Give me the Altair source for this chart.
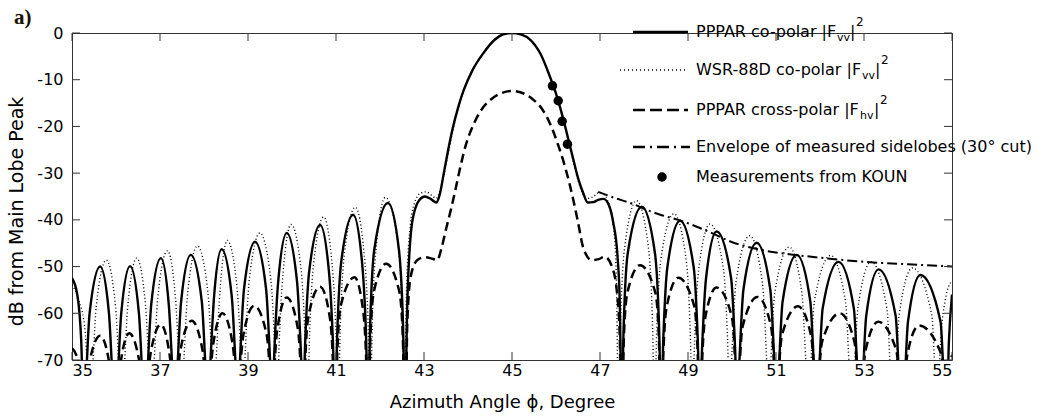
import altair as alt
import pandas as pd

# ---------------- data ----------------
# PPPAR co-polar |Fvv|^2 (solid)
pppar_co = [
    (35.00, -52.5), (35.12, -56), (35.21, -66), (35.26, -80),
    (35.31, -75), (35.40, -60), (35.64, -50.0), (35.84, -60), (35.93, -75), (35.98, -80),
    (36.03, -74.9), (36.12, -59.9), (36.32, -49.9), (36.52, -59.9), (36.61, -74.9), (36.66, -80),
    (36.71, -73.2), (36.80, -58.2), (37.02, -48.2), (37.20, -58.2), (37.29, -73.2), (37.34, -80),
    (37.39, -72.5), (37.48, -57.5), (37.70, -47.5), (37.95, -57.5), (38.04, -72.5), (38.09, -80),
    (38.14, -71.3), (38.23, -56.3), (38.40, -46.3), (38.63, -56.3), (38.72, -71.3), (38.77, -80),
    (38.82, -69.7), (38.91, -54.7), (39.16, -44.7), (39.41, -54.7), (39.50, -69.7), (39.55, -80),
    (39.60, -67.8), (39.69, -52.8), (39.88, -42.8), (40.11, -52.8), (40.20, -67.8), (40.25, -80),
    (40.30, -66.1), (40.39, -51.1), (40.64, -41.1), (40.84, -51.1), (40.93, -66.1), (40.98, -80),
    (41.03, -63.9), (41.12, -48.9), (41.39, -38.9), (41.59, -48.9), (41.68, -63.9), (41.73, -80),
    (41.78, -61.4), (41.87, -46.4), (42.18, -36.4), (42.43, -46.4), (42.52, -61.4), (42.57, -80),
    (42.62, -58), (42.70, -43), (42.80, -37.6), (42.90, -35.7), (43.02, -35.0), (43.15, -35.5),
    (43.28, -36.3), (43.36, -34.5), (43.45, -30.0), (43.55, -25.0), (43.65, -20.5), (43.78, -15.8),
    (43.90, -12.3), (44.10, -8.0), (44.35, -4.3), (44.60, -1.5), (44.80, -0.3), (45.00, 0.0),
    (45.20, -0.3), (45.41, -1.4), (45.65, -4.5), (45.86, -9.3), (46.00, -13.0), (46.17, -18.6),
    (46.30, -23.5), (46.40, -27.3), (46.50, -31.0), (46.62, -34.3), (46.72, -36.3), (46.85, -36.2),
    (46.96, -35.7), (47.08, -35.5), (47.20, -36.8), (47.30, -40.5), (47.40, -48), (47.45, -58), (47.49, -80),
    (47.54, -62.2), (47.63, -47.2), (47.95, -37.2), (48.25, -47.2), (48.34, -62.2), (48.39, -80),
    (48.44, -65.2), (48.53, -50.2), (48.82, -40.2), (49.13, -50.2), (49.22, -65.2), (49.27, -80),
    (49.32, -67.5), (49.41, -52.5), (49.65, -42.5), (49.98, -52.5), (50.07, -67.5), (50.12, -80),
    (50.17, -69.9), (50.26, -54.9), (50.56, -44.9), (50.87, -54.9), (50.96, -69.9), (51.01, -80),
    (51.06, -72.5), (51.15, -57.5), (51.47, -47.5), (51.78, -57.5), (51.87, -72.5), (51.92, -80),
    (51.97, -74), (52.06, -59), (52.42, -49.0), (52.77, -59), (52.86, -74), (52.91, -80),
    (52.96, -75.6), (53.05, -60.6), (53.33, -50.6), (53.72, -60.6), (53.81, -75.6), (53.86, -80),
    (53.91, -76.8), (54.00, -61.8), (54.28, -51.8), (54.74, -61.8), (54.83, -76.8), (54.88, -80),
    (54.93, -66), (55.00, -56),
]

# WSR-88D co-polar |Fvv|^2 (dotted)
wsr_co = [
    (35.00, -54), (35.15, -57), (35.30, -64), (35.41, -80),
    (35.46, -73.6), (35.55, -58.6), (35.78, -48.6), (35.99, -58.6), (36.08, -73.6), (36.13, -80),
    (36.18, -73.2), (36.27, -58.2), (36.47, -48.2), (36.67, -58.2), (36.76, -73.2), (36.81, -80),
    (36.86, -71.6), (36.95, -56.6), (37.17, -46.6), (37.35, -56.6), (37.44, -71.6), (37.49, -80),
    (37.54, -70.6), (37.63, -55.6), (37.85, -45.6), (38.09, -55.6), (38.18, -70.6), (38.23, -80),
    (38.28, -69.4), (38.37, -54.4), (38.53, -44.4), (38.75, -54.4), (38.84, -69.4), (38.89, -80),
    (38.94, -67.8), (39.03, -52.8), (39.27, -42.8), (39.52, -52.8), (39.61, -67.8), (39.66, -80),
    (39.71, -66), (39.80, -51), (39.98, -41.0), (40.21, -51), (40.30, -66), (40.35, -80),
    (40.40, -64.4), (40.49, -49.4), (40.72, -39.4), (40.91, -49.4), (41.00, -64.4), (41.05, -80),
    (41.10, -62.3), (41.19, -47.3), (41.44, -37.3), (41.64, -47.3), (41.73, -62.3), (41.78, -80),
    (41.83, -60.2), (41.92, -45.2), (42.12, -35.2), (42.41, -45.2), (42.50, -60.2), (42.55, -80),
    (42.60, -56), (42.68, -42), (42.78, -36.5), (42.92, -34.3), (43.05, -34.0), (43.18, -34.8),
    (43.28, -35.4), (43.36, -33.8), (43.45, -30.5), (43.55, -25.8), (43.65, -21.0), (43.78, -16.0),
    (43.90, -12.4), (44.10, -8.0), (44.35, -4.3), (44.60, -1.5), (44.80, -0.3), (45.00, 0.0),
    (45.20, -0.3), (45.41, -1.4), (45.65, -4.5), (45.86, -9.3), (46.00, -13.0), (46.17, -18.9),
    (46.30, -23.9), (46.40, -27.8), (46.50, -31.5), (46.62, -34.6), (46.72, -35.4), (46.85, -35.0),
    (46.97, -34.2), (47.08, -34.5), (47.20, -36.5), (47.30, -41), (47.37, -52), (47.42, -80),
    (47.47, -60.9), (47.56, -45.9), (47.83, -35.9), (48.10, -45.9), (48.19, -60.9), (48.24, -80),
    (48.29, -63.7), (48.38, -48.7), (48.68, -38.7), (48.96, -48.7), (49.05, -63.7), (49.10, -80),
    (49.15, -65.9), (49.24, -50.9), (49.50, -40.9), (49.81, -50.9), (49.90, -65.9), (49.95, -80),
    (50.00, -68.4), (50.09, -53.4), (50.40, -43.4), (50.69, -53.4), (50.78, -68.4), (50.83, -80),
    (50.88, -70.8), (50.97, -55.8), (51.30, -45.8), (51.59, -55.8), (51.68, -70.8), (51.73, -80),
    (51.78, -72.6), (51.87, -57.6), (52.24, -47.6), (52.58, -57.6), (52.67, -72.6), (52.72, -80),
    (52.77, -74), (52.86, -59), (53.16, -49.0), (53.52, -59), (53.61, -74), (53.66, -80),
    (53.71, -75.3), (53.80, -60.3), (54.10, -50.3), (54.54, -60.3), (54.63, -75.3), (54.68, -80),
    (54.73, -68), (54.85, -57), (55.00, -53),
]

# PPPAR cross-polar |Fhv|^2 (dashed)
pppar_cross = [
    (35.00, -67.5), (35.10, -69), (35.20, -74), (35.26, -95),
    (35.31, -80.8), (35.39, -70.8), (35.64, -64.8), (35.85, -70.8), (35.93, -80.8), (35.98, -95),
    (36.03, -80.3), (36.11, -70.3), (36.30, -64.3), (36.53, -70.3), (36.61, -80.3), (36.66, -95),
    (36.71, -78.4), (36.79, -68.4), (37.02, -62.4), (37.21, -68.4), (37.29, -78.4), (37.34, -95),
    (37.39, -77.6), (37.47, -67.6), (37.72, -61.6), (37.96, -67.6), (38.04, -77.6), (38.09, -95),
    (38.14, -76), (38.22, -66), (38.42, -60.0), (38.64, -66), (38.72, -76), (38.77, -95),
    (38.82, -74.4), (38.90, -64.4), (39.14, -58.4), (39.42, -64.4), (39.50, -74.4), (39.55, -95),
    (39.60, -72.6), (39.68, -62.6), (39.88, -56.6), (40.12, -62.6), (40.20, -72.6), (40.25, -95),
    (40.30, -70.3), (40.38, -60.3), (40.64, -54.3), (40.85, -60.3), (40.93, -70.3), (40.98, -95),
    (41.03, -68.3), (41.11, -58.3), (41.42, -52.3), (41.60, -58.3), (41.68, -68.3), (41.73, -95),
    (41.78, -65.4), (41.86, -55.4), (42.14, -49.4), (42.44, -55.4), (42.52, -65.4), (42.57, -95),
    (42.62, -62), (42.70, -52), (42.85, -48.6), (43.02, -48.0), (43.18, -48.3), (43.30, -48.6),
    (43.40, -46.0), (43.50, -42.0), (43.62, -37.5), (43.72, -33.3), (43.83, -28.5), (43.95, -24.0),
    (44.14, -19.3), (44.30, -16.5), (44.55, -14.0), (44.75, -12.9), (45.00, -12.4), (45.25, -12.9),
    (45.45, -14.0), (45.70, -16.5), (45.86, -19.3), (46.05, -24.0), (46.17, -27.5), (46.30, -32.0),
    (46.40, -36.0), (46.50, -40.5), (46.62, -46.0), (46.81, -48.6), (46.97, -48.4), (47.11, -47.9),
    (47.27, -50.0), (47.38, -55), (47.45, -65), (47.49, -95),
    (47.54, -65.7), (47.62, -55.7), (47.91, -49.7), (48.26, -55.7), (48.34, -65.7), (48.39, -95),
    (48.44, -68.4), (48.52, -58.4), (48.78, -52.4), (49.14, -58.4), (49.22, -68.4), (49.27, -95),
    (49.32, -70.5), (49.40, -60.5), (49.65, -54.5), (49.99, -60.5), (50.07, -70.5), (50.12, -95),
    (50.17, -72.5), (50.25, -62.5), (50.58, -56.5), (50.88, -62.5), (50.96, -72.5), (51.01, -95),
    (51.06, -74.5), (51.14, -64.5), (51.50, -58.5), (51.79, -64.5), (51.87, -74.5), (51.92, -95),
    (51.97, -76), (52.05, -66), (52.45, -60.0), (52.78, -66), (52.86, -76), (52.91, -95),
    (52.96, -77.8), (53.04, -67.8), (53.32, -61.8), (53.73, -67.8), (53.81, -77.8), (53.86, -95),
    (53.91, -78.6), (53.99, -68.6), (54.25, -62.6), (54.75, -68.6), (54.83, -78.6), (54.88, -95),
    (54.93, -75), (55.00, -69),
]

# Envelope of measured sidelobes (30 deg cut) (dash-dot)
envelope = [
    (46.96, -34.0), (47.30, -35.2), (47.72, -36.5), (48.10, -38.0), (48.40, -39.0),
    (48.78, -40.0), (49.39, -42.2), (50.07, -45.0), (50.70, -46.5), (51.43, -47.5),
    (52.11, -48.2), (53.02, -49.0), (54.39, -49.7), (55.00, -50.0),
]

# Measurements from KOUN
koun_x = [45.92, 46.05, 46.14, 46.26]
koun_y = [-11.3, -14.5, -18.9, -23.8]

x_ticks = [35, 37, 39, 41, 43, 45, 47, 49, 51, 53, 55]
y_ticks = [-70, -60, -50, -40, -30, -20, -10, 0]

legend_labels = ["PPPAR co-polar |F", "WSR-88D co-polar |F", "PPPAR cross-polar |F",
                 "Envelope of measured sidelobes (30° cut)", "Measurements from KOUN"]

# ---------------- chart ----------------
W, H = 880, 327
FONT = "DejaVu Sans"
INK = "#000000"
BOX = "#333333"


def frame(pairs):
    return pd.DataFrame(pairs, columns=["az", "db"])


xs = alt.Scale(domain=[35, 55], nice=False, zero=False)
ys = alt.Scale(domain=[-70, 0], nice=False, zero=False)

x_enc = alt.X("az:Q", scale=xs, axis=alt.Axis(
    values=x_ticks, ticks=False, tickSize=0, domain=False, grid=False,
    labelExpr="'' + datum.value", labelBaseline="top",
    labelFont=FONT, labelFontSize=16, labelColor=INK, labelPadding=2,
    title="Azimuth Angle ϕ, Degree", titleFont=FONT, titleFontSize=18,
    titleFontWeight="normal", titleColor=INK, titleY=33, titleX=430))
y_enc = alt.Y("db:Q", scale=ys, axis=alt.Axis(
    values=y_ticks, ticks=False, tickSize=0, domain=False, grid=False,
    labelExpr="'' + datum.value",
    labelFont=FONT, labelFontSize=16, labelColor=INK, labelPadding=9,
    title="dB from Main Lobe Peak", titleFont=FONT, titleFontSize=19,
    titleFontWeight="normal", titleColor=INK, titleX=-46, titleY=178))

dotted = alt.Chart(frame(wsr_co)).mark_line(
    clip=True, color=INK, strokeWidth=1.4, strokeDash=[1, 2.5], interpolate="monotone"
).encode(x=x_enc, y=y_enc)

dashed = alt.Chart(frame(pppar_cross)).mark_line(
    clip=True, color=INK, strokeWidth=2.5, strokeDash=[9, 5], interpolate="monotone"
).encode(x="az:Q", y="db:Q")

dashdot = alt.Chart(frame(envelope)).mark_line(
    clip=True, color=INK, strokeWidth=2, strokeDash=[10, 4, 2, 4], interpolate="monotone"
).encode(x="az:Q", y="db:Q")

solid = alt.Chart(frame(pppar_co)).mark_line(
    clip=True, color=INK, strokeWidth=2.4, interpolate="monotone"
).encode(x="az:Q", y="db:Q")

dots = alt.Chart(pd.DataFrame({"az": koun_x, "db": koun_y})).mark_circle(
    color=INK, opacity=1, size=90
).encode(x="az:Q", y="db:Q")

# inward tick marks on all four sides (MATLAB style box)
xt = pd.DataFrame({"t": x_ticks})
yt = pd.DataFrame({"t": y_ticks})
tick_style = dict(color=BOX, strokeWidth=1)
ticks_bottom = alt.Chart(xt).mark_rule(**tick_style).encode(
    x=alt.X("t:Q", scale=xs), y=alt.value(H), y2=alt.value(H - 8))
ticks_top = alt.Chart(xt).mark_rule(**tick_style).encode(
    x=alt.X("t:Q", scale=xs), y=alt.value(0), y2=alt.value(8))
ticks_left = alt.Chart(yt).mark_rule(**tick_style).encode(
    y=alt.Y("t:Q", scale=ys), x=alt.value(0), x2=alt.value(8))
ticks_right = alt.Chart(yt).mark_rule(**tick_style).encode(
    y=alt.Y("t:Q", scale=ys), x=alt.value(W), x2=alt.value(W - 8))

# legend (drawn by hand, pixel layout relative to the plot origin)
LX0, LX1, TX = 561, 616, 624
rows_y = [-1, 37, 77, 114, 144]

leg_solid = alt.Chart(pd.DataFrame({"k": [0]})).mark_rule(color=INK, strokeWidth=2.4).encode(
    x=alt.value(LX0), x2=alt.value(LX1), y=alt.value(rows_y[0]))
leg_dotted = alt.Chart(pd.DataFrame({"k": [0]})).mark_rule(color=INK, strokeWidth=1.4, strokeDash=[1, 3]).encode(
    x=alt.value(548), x2=alt.value(LX1), y=alt.value(rows_y[1]))
leg_dashed = alt.Chart(pd.DataFrame({"k": [0]})).mark_rule(color=INK, strokeWidth=2.5, strokeDash=[12, 5]).encode(
    x=alt.value(LX0), x2=alt.value(LX1), y=alt.value(rows_y[2]))
leg_dashdot = alt.Chart(pd.DataFrame({"k": [0]})).mark_rule(color=INK, strokeWidth=2.4, strokeDash=[12, 5, 2, 5]).encode(
    x=alt.value(LX0), x2=alt.value(LX1 + 2), y=alt.value(rows_y[3]))
leg_dot = alt.Chart(pd.DataFrame({"k": [0]})).mark_circle(color=INK, opacity=1, size=90).encode(
    x=alt.value(590), y=alt.value(rows_y[4]))

leg_text = alt.Chart(pd.DataFrame({"label": legend_labels, "yy": rows_y})).mark_text(
    align="left", baseline="middle", font=FONT, fontSize=16, color=INK
).encode(x=alt.value(TX), y=alt.Y("yy:Q", scale=None), text="label:N")

# subscripts / superscripts of the legend labels
sub_txt = ["vv", "vv", "hv"]
sub_x = [765, 790, 788]
sub_y = [rows_y[0] + 6, rows_y[1] + 6, rows_y[2] + 6]
bar_x = [778, 803, 802]
sup_x = [784, 809, 808]
sup_y = [rows_y[0] - 10, rows_y[1] - 10, rows_y[2] - 10]

leg_sub = alt.Chart(pd.DataFrame({"s": sub_txt, "xx": sub_x, "yy": sub_y})).mark_text(
    align="left", baseline="middle", font=FONT, fontSize=11, color=INK
).encode(x=alt.X("xx:Q", scale=None), y=alt.Y("yy:Q", scale=None), text="s:N")
leg_bar = alt.Chart(pd.DataFrame({"s": ["|", "|", "|"], "xx": bar_x, "yy": rows_y[:3]})).mark_text(
    align="left", baseline="middle", font=FONT, fontSize=16, color=INK
).encode(x=alt.X("xx:Q", scale=None), y=alt.Y("yy:Q", scale=None), text="s:N")
leg_sup = alt.Chart(pd.DataFrame({"s": ["2", "2", "2"], "xx": sup_x, "yy": sup_y})).mark_text(
    align="left", baseline="middle", font=FONT, fontSize=12, color=INK
).encode(x=alt.X("xx:Q", scale=None), y=alt.Y("yy:Q", scale=None), text="s:N")

panel_tag = alt.Chart(pd.DataFrame({"s": ["a)"]})).mark_text(
    align="left", baseline="middle", font="Liberation Serif", fontSize=21, fontWeight="bold", color="#1a1208"
).encode(x=alt.value(-58), y=alt.value(-15), text="s:N")

chart = alt.layer(
    dotted, dashed, dashdot, solid, dots,
    ticks_bottom, ticks_top, ticks_left, ticks_right,
    leg_solid, leg_dotted, leg_dashed, leg_dashdot, leg_dot,
    leg_text, leg_sub, leg_bar, leg_sup, panel_tag,
).properties(
    width=W, height=H,
    autosize=alt.AutoSizeParams(type="none"),
    padding={"left": 72, "top": 33, "right": 87, "bottom": 57},
    background="white",
).configure_view(stroke=BOX, strokeWidth=1)

chart.save("out.html", embed_options={"renderer": "svg", "actions": False})
